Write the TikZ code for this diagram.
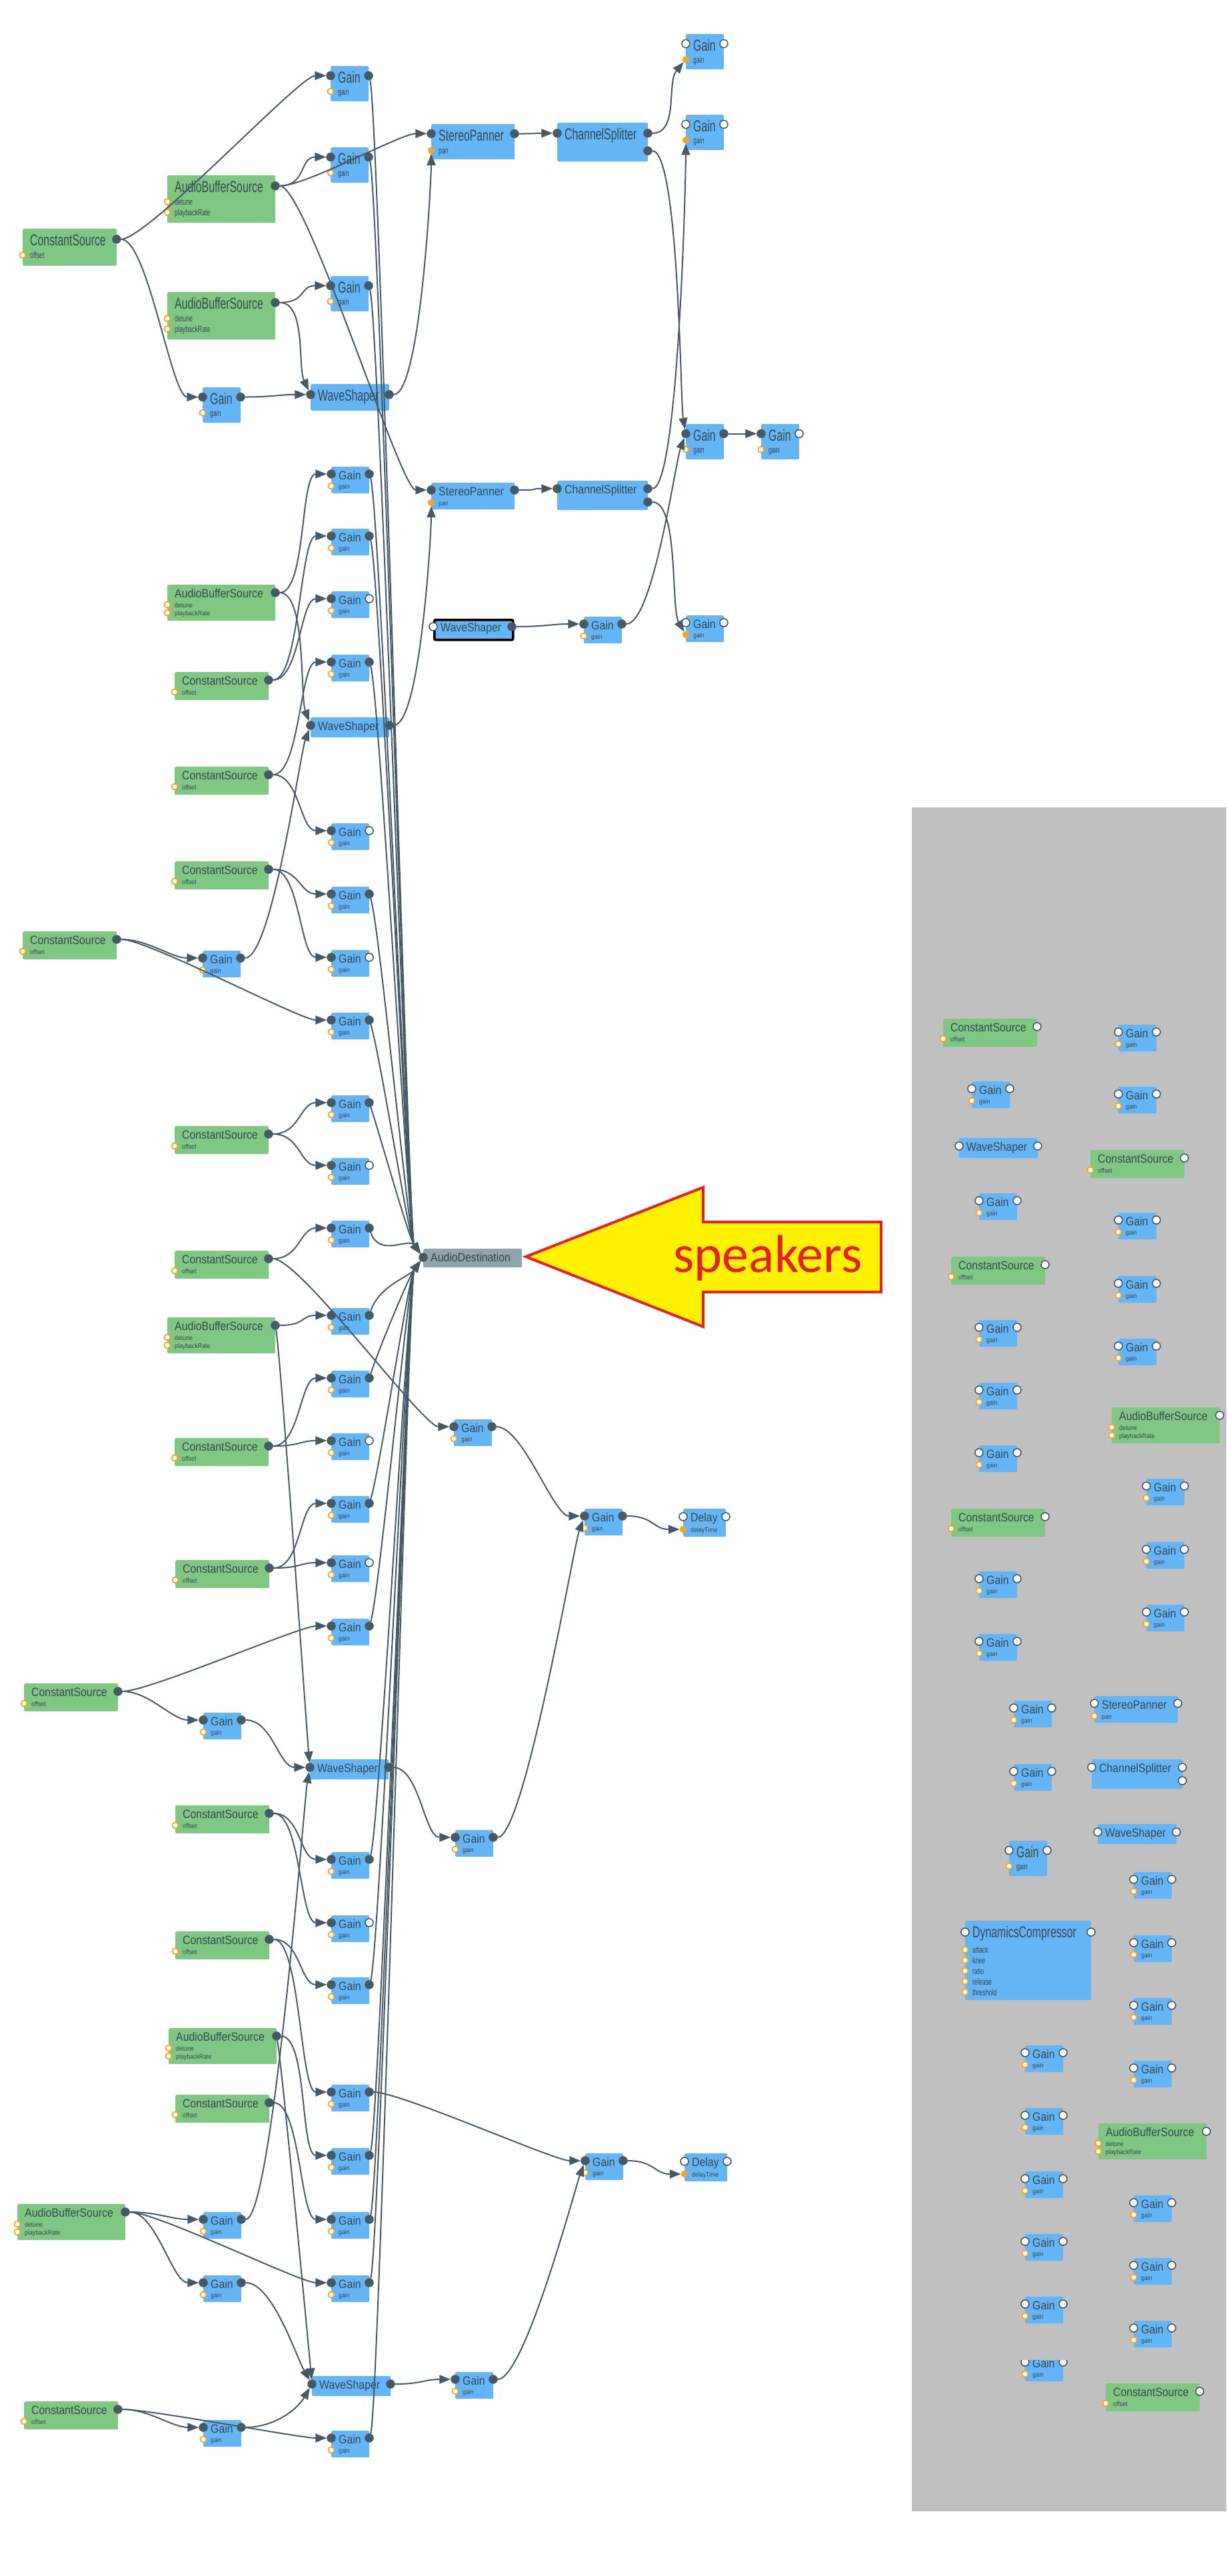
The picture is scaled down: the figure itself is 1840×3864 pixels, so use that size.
\documentclass[tikz,border=0pt]{standalone}
\usepackage{fontspec}
\setmainfont{Liberation Sans}[FakeStretch=0.88]
\newfontfamily\calloutfont{Carlito}
\usepackage{graphicx}
\usetikzlibrary{arrows.meta}

\definecolor{wirec}{HTML}{455A64}
\definecolor{gainc}{HTML}{64B5F6}
\definecolor{srcc}{HTML}{81C784}
\definecolor{destc}{HTML}{90A4AE}
\definecolor{textc}{HTML}{37474F}
\definecolor{prmc}{HTML}{F5A623}
\definecolor{panelc}{HTML}{C0C0C0}
\definecolor{calloutc}{HTML}{FFF200}
\definecolor{calloutr}{HTML}{E4202A}

\tikzset{
  blk/.style={rectangle, rounded corners=2pt, inner sep=0pt, draw=none},
  nodetitle/.style={text=textc, font=\fontsize{18}{18}\selectfont, inner sep=0pt, anchor=base west},
  plabel/.style={text=textc, font=\fontsize{10}{10}\selectfont, inner sep=0pt, anchor=base west},
  portdark/.style={circle, fill=wirec, draw=wirec, minimum size=13pt, inner sep=0pt},
  portfree/.style={circle, fill=white, draw=wirec, line width=1.6pt, minimum size=12pt, inner sep=0pt},
  prm/.style={circle, fill=white, draw=prmc, line width=1.8pt, minimum size=9pt, inner sep=0pt},
  prmon/.style={circle, fill=prmc, draw=prmc, minimum size=10pt, inner sep=0pt},
  wire/.style={draw=wirec, line width=2pt, -{Triangle[length=17pt,width=13pt]}, out=0, in=180, distance=40pt},
}

\def\sy{1}
% box with its title: name, x, y, width, height, fill, title
\newcommand{\audiobox}[7]{%
  \node[blk, fill=#6, minimum width=#4pt, minimum height=#5pt*\sy, anchor=north west] (#1) at (#2,#3) {};
  \node[nodetitle] (#1-t) at (#2+11,#3+19*\sy) {\scalebox{1}[\sy]{#7}};}
% one parameter input: name, x, y, style, label
\newcommand{\paramrow}[5]{%
  \node[#4] (#1) at (#2,#3) {};
  \node[plabel] (#1-l) at (#2+11,#3+4*\sy) {\scalebox{1}[\sy]{#5}};}
% name, x, y, in, out, param
\newcommand{\gainunit}[6]{%
  \audiobox{#1}{#2}{#3}{57}{40}{gainc}{Gain}
  \node[#4] (#1-i) at (#2,#3+11*\sy) {};
  \node[#5] (#1-o) at (#2+57,#3+11*\sy) {};
  \paramrow{#1-p}{#2}{#3+29*\sy}{#6}{gain}}
% name, x, y, out, param
\newcommand{\constunit}[5]{%
  \audiobox{#1}{#2}{#3}{141}{42}{srcc}{ConstantSource}
  \node[#4] (#1-o) at (#2+141,#3+12*\sy) {};
  \paramrow{#1-p}{#2}{#3+30*\sy}{#5}{offset}}
% name, x, y, out
\newcommand{\bufferunit}[4]{%
  \audiobox{#1}{#2}{#3}{162}{54}{srcc}{AudioBufferSource}
  \node[#4] (#1-o) at (#2+162,#3+12*\sy) {};
  \paramrow{#1-p}{#2}{#3+30*\sy}{prm}{detune}
  \paramrow{#1-q}{#2}{#3+42*\sy}{prm}{playbackRate}}
% [extra box style] name, x, y, in, out
\newcommand{\shaperunit}[6][]{%
  \audiobox{#2}{#3}{#4}{118}{30}{gainc,#1}{WaveShaper}
  \node[#5] (#2-i) at (#3,#4+12*\sy) {};
  \node[#6] (#2-o) at (#3+118,#4+12*\sy) {};}
% name, x, y, in, out, param
\newcommand{\pannerunit}[6]{%
  \audiobox{#1}{#2}{#3}{125}{40}{gainc}{StereoPanner}
  \node[#4] (#1-i) at (#2,#3+11*\sy) {};
  \node[#5] (#1-o) at (#2+125,#3+11*\sy) {};
  \paramrow{#1-p}{#2}{#3+30*\sy}{#6}{pan}}
% name, x, y, in, out, second out
\newcommand{\splitterunit}[6]{%
  \audiobox{#1}{#2}{#3}{136}{44}{gainc}{ChannelSplitter}
  \node[#4] (#1-i) at (#2,#3+12*\sy) {};
  \node[#5] (#1-o) at (#2+136,#3+12*\sy) {};
  \node[#6] (#1-o2) at (#2+136,#3+32*\sy) {};}
% name, x, y, in, out, param
\newcommand{\delayunit}[6]{%
  \audiobox{#1}{#2}{#3}{64}{42}{gainc}{Delay}
  \node[#4] (#1-i) at (#2,#3+12*\sy) {};
  \node[#5] (#1-o) at (#2+64,#3+12*\sy) {};
  \paramrow{#1-p}{#2}{#3+31*\sy}{#6}{delayTime}}

\begin{document}
\begin{tikzpicture}[x=1pt, y=-1pt]
  \useasboundingbox (0,0) rectangle (1840,3864);
  % panel of unused nodes
  \fill[panelc] (1368,1211) rectangle (1840,3767);

  % top of the graph, shown taller
  \def\sy{1.32}
  \constunit{cs1}{34}{343}{portdark}{prm}
  \bufferunit{abs1}{251}{263}{portdark}
  \bufferunit{abs2}{251}{438}{portdark}
  \gainunit{g1}{496}{99}{portdark}{portdark}{prm}
  \gainunit{g2}{496}{221}{portdark}{portdark}{prm}
  \gainunit{g3}{496}{414}{portdark}{portdark}{prm}
  \gainunit{g4}{304}{581}{portdark}{portdark}{prm}
  \shaperunit{ws1}{466}{576}{portdark}{portdark}
  \pannerunit{sp1}{647}{186}{portdark}{portdark}{prmon}
  \splitterunit{csp1}{836}{184}{portdark}{portdark}{portdark}
  \gainunit{ga}{1029}{51}{portfree}{portfree}{prmon}
  \gainunit{gb}{1029}{172}{portfree}{portfree}{prmon}
  \gainunit{gc}{1029}{636}{portdark}{portdark}{prm}
  \gainunit{gd}{1142}{636}{portdark}{portfree}{prm}

  \def\sy{1}
  \pannerunit{sp2}{647}{724}{portdark}{portdark}{prmon}
  \splitterunit{csp2}{836}{721}{portdark}{portdark}{portdark}
  \shaperunit[draw=black,line width=3.5pt]{ws3}{650}{928}{portfree}{portdark}
  \gainunit{ge}{876}{925}{portdark}{portdark}{prm}
  \gainunit{gf}{1029}{923}{portfree}{portfree}{prmon}
  \bufferunit{abs3}{251}{877}{portdark}
  \gainunit{h1}{497}{700}{portdark}{portdark}{prm}
  \gainunit{h2}{497}{793}{portdark}{portdark}{prm}
  \gainunit{h3}{497}{887}{portdark}{portfree}{prm}
  \gainunit{h4}{497}{982}{portdark}{portdark}{prm}
  \constunit{cs2}{262}{1008}{portdark}{prm}
  \shaperunit{ws2}{466}{1076}{portdark}{portdark}
  \constunit{cs3}{262}{1150}{portdark}{prm}
  \gainunit{h5}{497}{1235}{portdark}{portfree}{prm}
  \constunit{cs4}{262}{1292}{portdark}{prm}
  \gainunit{h6}{497}{1330}{portdark}{portdark}{prm}
  \gainunit{h7}{497}{1425}{portdark}{portfree}{prm}
  \constunit{cs5}{34}{1397}{portdark}{prm}
  \gainunit{h8}{304}{1426}{portdark}{portdark}{prm}
  \gainunit{h9}{497}{1519}{portdark}{portdark}{prm}
  \gainunit{j1}{497}{1643}{portdark}{portdark}{prm}
  \constunit{cs6}{262}{1689}{portdark}{prm}
  \gainunit{j2}{497}{1737}{portdark}{portfree}{prm}
  \gainunit{j3}{497}{1831}{portdark}{portdark}{prm}
  \constunit{cs7}{262}{1876}{portdark}{prm}
  % the speakers
  \audiobox{ad}{635}{1873}{148}{28}{destc}{AudioDestination}
  \node[portdark] (ad-i) at (635,1886) {};
  \bufferunit{abs4}{251}{1976}{portdark}
  \gainunit{j4}{497}{1962}{portdark}{portdark}{prm}
  \gainunit{j5}{497}{2056}{portdark}{portdark}{prm}
  \constunit{cs8}{262}{2157}{portdark}{prm}
  \gainunit{j6}{497}{2150}{portdark}{portfree}{prm}
  \gainunit{j7}{497}{2244}{portdark}{portdark}{prm}
  \constunit{cs9}{263}{2340}{portdark}{prm}
  \gainunit{j8}{497}{2333}{portdark}{portfree}{prm}
  \gainunit{j9}{497}{2428}{portdark}{portdark}{prm}
  \constunit{cs10}{36}{2525}{portdark}{prm}
  \gainunit{j10}{305}{2569}{portdark}{portdark}{prm}
  \gainunit{k1}{681}{2129}{portdark}{portdark}{prm}
  \gainunit{l1}{877}{2263}{portdark}{portdark}{prm}
  \delayunit{dl1}{1025}{2263}{portfree}{portfree}{prmon}
  \shaperunit{ws4}{465}{2639}{portdark}{portdark}
  \constunit{cs11}{263}{2708}{portdark}{prm}
  \gainunit{m1}{497}{2778}{portdark}{portdark}{prm}
  \gainunit{m2}{497}{2873}{portdark}{portfree}{prm}
  \constunit{cs12}{263}{2897}{portdark}{prm}
  \gainunit{m3}{497}{2966}{portdark}{portdark}{prm}
  \gainunit{k2}{683}{2745}{portdark}{portdark}{prm}
  \bufferunit{abs5}{253}{3042}{portdark}
  \gainunit{m4}{497}{3127}{portdark}{portdark}{prm}
  \constunit{cs13}{263}{3142}{portdark}{prm}
  \gainunit{m5}{497}{3222}{portdark}{portdark}{prm}
  \gainunit{m6}{497}{3318}{portdark}{portdark}{prm}
  \gainunit{m7}{497}{3413}{portdark}{portdark}{prm}
  \bufferunit{abs6}{26}{3306}{portdark}
  \gainunit{n1}{305}{3318}{portdark}{portdark}{prm}
  \gainunit{n2}{305}{3413}{portdark}{portdark}{prm}
  \gainunit{l2}{878}{3230}{portdark}{portdark}{prm}
  \delayunit{dl2}{1027}{3230}{portfree}{portfree}{prmon}
  \shaperunit{ws5}{468}{3564}{portdark}{portdark}
  \gainunit{p1}{683}{3558}{portdark}{portdark}{prm}
  \constunit{cs14}{36}{3602}{portdark}{prm}
  \gainunit{q1}{305}{3630}{portdark}{portdark}{prm}
  \gainunit{q2}{497}{3646}{portdark}{portdark}{prm}

  % unused nodes, left column
  \constunit{pcs1}{1415}{1528}{portfree}{prm}
  \gainunit{pg1}{1458}{1622}{portfree}{portfree}{prm}
  \shaperunit{pws1}{1439}{1707}{portfree}{portfree}
  \gainunit{pg2}{1469}{1790}{portfree}{portfree}{prm}
  \constunit{pcs2}{1427}{1885}{portfree}{prm}
  \gainunit{pg3}{1469}{1980}{portfree}{portfree}{prm}
  \gainunit{pg4}{1469}{2074}{portfree}{portfree}{prm}
  \gainunit{pg5}{1469}{2168}{portfree}{portfree}{prm}
  \constunit{pcs3}{1427}{2263}{portfree}{prm}
  \gainunit{pg6}{1469}{2357}{portfree}{portfree}{prm}
  \gainunit{pg7}{1469}{2451}{portfree}{portfree}{prm}
  \gainunit{pg16}{1521}{2551}{portfree}{portfree}{prm}
  \gainunit{pg17}{1521}{2646}{portfree}{portfree}{prm}
  \def\sy{1.32}
  \gainunit{pg18}{1514}{2761}{portfree}{portfree}{prm}
  \audiobox{pdc}{1448}{2881}{189}{90}{gainc}{DynamicsCompressor}
  \node[portfree] (pdc-i) at (1448,2881+13*\sy) {};
  \node[portfree] (pdc-o) at (1637,2881+13*\sy) {};
  \paramrow{pdc-a}{1448}{2881+33*\sy}{prm}{attack}
  \paramrow{pdc-k}{1448}{2881+45*\sy}{prm}{knee}
  \paramrow{pdc-r}{1448}{2881+57*\sy}{prm}{ratio}
  \paramrow{pdc-e}{1448}{2881+69*\sy}{prm}{release}
  \paramrow{pdc-t}{1448}{2881+81*\sy}{prm}{threshold}
  \def\sy{1}
  \gainunit{pg19}{1538}{3068}{portfree}{portfree}{prm}
  \gainunit{pg20}{1538}{3162}{portfree}{portfree}{prm}
  \gainunit{pg21}{1538}{3257}{portfree}{portfree}{prm}
  \gainunit{pg22}{1538}{3351}{portfree}{portfree}{prm}
  \gainunit{pg23}{1538}{3445}{portfree}{portfree}{prm}
  \gainunit{pg24}{1538}{3532}{portfree}{portfree}{prm}
  \fill[panelc] (1525,3515) rectangle (1610,3540);
  % unused nodes, right column
  \gainunit{pg8}{1678}{1537}{portfree}{portfree}{prm}
  \gainunit{pg9}{1678}{1630}{portfree}{portfree}{prm}
  \constunit{pcs4}{1636}{1725}{portfree}{prm}
  \gainunit{pg10}{1678}{1819}{portfree}{portfree}{prm}
  \gainunit{pg11}{1678}{1914}{portfree}{portfree}{prm}
  \gainunit{pg12}{1678}{2008}{portfree}{portfree}{prm}
  \bufferunit{pabs1}{1668}{2111}{portfree}
  \gainunit{pg13}{1720}{2218}{portfree}{portfree}{prm}
  \gainunit{pg14}{1720}{2313}{portfree}{portfree}{prm}
  \gainunit{pg15}{1720}{2407}{portfree}{portfree}{prm}
  \pannerunit{psp}{1642}{2544}{portfree}{portfree}{prm}
  \splitterunit{pcsp}{1638}{2639}{portfree}{portfree}{portfree}
  \shaperunit{pws2}{1647}{2736}{portfree}{portfree}
  \gainunit{pg25}{1701}{2808}{portfree}{portfree}{prm}
  \gainunit{pg26}{1701}{2903}{portfree}{portfree}{prm}
  \gainunit{pg27}{1701}{2997}{portfree}{portfree}{prm}
  \gainunit{pg28}{1701}{3091}{portfree}{portfree}{prm}
  \bufferunit{pabs2}{1648}{3185}{portfree}
  \gainunit{pg29}{1701}{3293}{portfree}{portfree}{prm}
  \gainunit{pg30}{1701}{3387}{portfree}{portfree}{prm}
  \gainunit{pg31}{1701}{3481}{portfree}{portfree}{prm}
  \constunit{pcs5}{1659}{3575}{portfree}{prm}

  % top connections
  \draw[wire] (cs1-o) to (g1-i);
  \draw[wire] (cs1-o) to (g4-i);
  \draw[wire] (abs1-o) to (g2-i);
  \draw[wire] (abs1-o) to (sp1-i);
  \draw[wire] (abs1-o) to (sp2-i);
  \draw[wire] (abs2-o) to (g3-i);
  \draw[wire] (abs2-o) to[in=115] (ws1-i);
  \draw[wire] (g4-o) to (ws1-i);
  \draw[wire] (ws1-o) to[in=-90] (sp1-p);
  \draw[wire] (sp1-o) to (csp1-i);
  \draw[wire] (csp1-o) to[in=230] (ga-p);
  \draw[wire] (csp1-o2) to[in=100] (gc-i);
  \draw[wire] (sp2-o) to (csp2-i);
  \draw[wire] (csp2-o) to[in=-90] (gb-p);
  \draw[wire] (csp2-o2) to[in=120] (gf-p);
  \draw[wire] (ws3-o) to (ge-i);
  \draw[wire] (ge-o) to[in=-110] (gc-i);
  \draw[wire] (gc-o) to (gd-i);
  % middle connections
  \draw[wire] (ws2-o) to[in=-90] (sp2-p);
  \draw[wire] (abs3-o) to (h1-i);
  \draw[wire] (abs3-o) to[in=110] (ws2-i);
  \draw[wire] (cs2-o) to (h2-i);
  \draw[wire] (cs2-o) to (h3-i);
  \draw[wire] (cs3-o) to (h4-i);
  \draw[wire] (cs3-o) to (h5-i);
  \draw[wire] (cs4-o) to (h6-i);
  \draw[wire] (cs4-o) to (h7-i);
  \draw[wire] (cs5-o) to (h8-i);
  \draw[wire] (cs5-o) to (h9-i);
  \draw[wire] (h8-o) to[in=-110] (ws2-i);
  \draw[wire] (cs6-o) to (j1-i);
  \draw[wire] (cs6-o) to (j2-i);
  \draw[wire] (cs7-o) to (j3-i);
  \draw[wire] (cs7-o) to (k1-i);
  \draw[wire] (abs4-o) to (j4-i);
  \draw[wire] (abs4-o) to[out=-80,in=95] (ws4-i);
  \draw[wire] (cs8-o) to (j5-i);
  \draw[wire] (cs8-o) to (j6-i);
  \draw[wire] (cs9-o) to (j7-i);
  \draw[wire] (cs9-o) to (j8-i);
  \draw[wire] (cs10-o) to (j9-i);
  \draw[wire] (cs10-o) to (j10-i);
  \draw[wire] (k1-o) to (l1-i);
  \draw[wire] (k2-o) to[in=-110] (l1-i);
  \draw[wire] (l1-o) to (dl1-p);
  % lower connections
  \draw[wire] (j10-o) to (ws4-i);
  \draw[wire] (n1-o) to[in=-100] (ws4-i);
  \draw[wire] (ws4-o) to (k2-i);
  \draw[wire] (cs11-o) to (m1-i);
  \draw[wire] (cs11-o) to (m2-i);
  \draw[wire] (cs12-o) to (m3-i);
  \draw[wire] (cs12-o) to (m4-i);
  \draw[wire] (abs5-o) to (m5-i);
  \draw[wire] (abs5-o) to[out=-80,in=95] (ws5-i);
  \draw[wire] (cs13-o) to (m6-i);
  \draw[wire] (abs6-o) to (n1-i);
  \draw[wire] (abs6-o) to (n2-i);
  \draw[wire] (abs6-o) to (m7-i);
  \draw[wire] (n2-o) to[in=120] (ws5-i);
  \draw[wire] (q1-o) to[in=-120] (ws5-i);
  \draw[wire] (cs14-o) to (q1-i);
  \draw[wire] (cs14-o) to (q2-i);
  \draw[wire] (ws5-o) to (p1-i);
  \draw[wire] (p1-o) to[in=-110] (l2-i);
  \draw[wire] (m4-o) to (l2-i);
  \draw[wire] (l2-o) to (dl2-p);
  % everything that reaches the speakers
  \foreach \s in {g1,g2,g3,h1,h2,h4,h6,h9,j1,j3}
    \draw[wire] (\s-o) .. controls +(15,45) and +(-22,-30) .. (ad-i);
  \foreach \s in {j4,j5,j7,j9,m1,m3,m5,m6,m7,q2}
    \draw[wire] (\s-o) .. controls +(15,-45) and +(-22,30) .. (ad-i);

  % callout
  \draw[draw=calloutr, fill=calloutc, line width=4pt] (789,1885) -- (1055,1781) -- (1055,1833) -- (1322,1833)
    -- (1322,1938) -- (1055,1938) -- (1055,1990) -- cycle;
  \node[text=calloutr, font=\calloutfont\fontsize{80}{80}\selectfont, anchor=base, inner sep=0pt] (spk) at (1152,1908) {speakers};
\end{tikzpicture}
\end{document}
